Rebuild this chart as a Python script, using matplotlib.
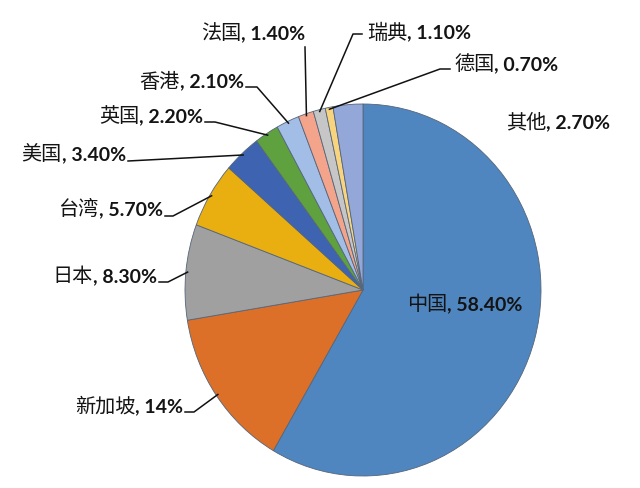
import numpy as np
import matplotlib
matplotlib.use("Agg")
import matplotlib.pyplot as plt

# data
labels = ["中国", "新加坡", "日本", "台湾", "美国", "英国", "香港", "法国", "瑞典", "德国", "其他"]
shares = [58.4, 14, 8.3, 5.7, 3.4, 2.2, 2.1, 1.4, 1.1, 0.7, 2.7]
texts = ["58.40%", "14%", "8.30%", "5.70%", "3.40%", "2.20%", "2.10%", "1.40%", "1.10%", "0.70%", "2.70%"]
colors = ["#4f86c0", "#dc7029", "#a0a0a0", "#e9ae10", "#3d63b1", "#5fa13f",
          "#a2bee6", "#f3a48b", "#c6c6c6", "#f8d47f", "#94a7d9"]

W, H = 640, 489
CX, CY, RX, RY = 363, 291, 178, 186   # pie centre / radii in pixels


def px(x, y):
    # pixel position -> data coords of the unit pie
    return (x - CX) / RX, (CY - y) / RY


fig = plt.figure(figsize=(W / 100, H / 100), dpi=100)
ax = fig.add_axes([0, 0, 1, 1])
wedges, _ = ax.pie(shares, colors=colors, startangle=90, counterclock=False,
                   radius=1, wedgeprops=dict(edgecolor="#55657a", linewidth=0.6))
ax.set_aspect("auto")
x0, y0 = px(0, H)
x1, y1 = px(W, 0)
ax.set_xlim(x0, x1)
ax.set_ylim(y0, y1)
ax.axis("off")

# CJK names in a plain weight, numbers in a bolder latin face
cjk_font = dict(family=["Noto Sans CJK SC", "DejaVu Sans"], fontsize=14.5,
                fontweight="normal", color="#141414")
num_font = dict(family=["Lato", "DejaVu Sans"], fontsize=14,
                fontweight="bold", color="#141414")

# label layout: (text anchor x, y, ha, leader points from text towards pie)
layout = {
    "中国": (407, 305, "left", None),
    "新加坡": (183, 407, "right", [(185, 413), (194, 413)]),
    "日本": (157, 277, "right", [(159, 283), (168, 283)]),
    "台湾": (163, 210, "right", [(165, 217), (173, 217)]),
    "美国": (126, 155, "right", [(128, 162)]),
    "英国": (203, 117, "right", [(205, 123), (215, 123)]),
    "香港": (244, 82, "right", [(246, 88), (257, 88)]),
    "法国": (201, 34, "left", [(305, 48)]),
    "瑞典": (367, 33, "left", [(362, 35), (353, 35)]),
    "德国": (454, 65, "left", [(450, 70), (440, 70)]),
    "其他": (506, 123, "left", None),
}

renderer = fig.canvas.get_renderer()
inv = ax.transData.inverted()


def label(name, t, tx, ty, ha):
    y = px(tx, ty)[1]
    if ha == "left":
        a = ax.text(*px(tx, ty), name, ha="left", va="center", **cjk_font)
        x_end = a.get_window_extent(renderer).x1
        ax.text(inv.transform((x_end, 0))[0], y, ", " + t, ha="left", va="center", **num_font)
    else:
        b = ax.text(*px(tx, ty), ", " + t, ha="right", va="center", **num_font)
        x_start = b.get_window_extent(renderer).x0
        ax.text(inv.transform((x_start, 0))[0], y, name, ha="right", va="center", **cjk_font)


for w, name, t in zip(wedges, labels, texts):
    tx, ty, ha, lead = layout[name]
    label(name, t, tx, ty, ha)
    if lead:
        mid = np.deg2rad((w.theta1 + w.theta2) / 2)
        pts = [px(*p) for p in lead] + [(np.cos(mid) * 0.99, np.sin(mid) * 0.99)]
        xs, ys = zip(*pts)
        ax.plot(xs, ys, color="#111111", lw=1.1)

fig.savefig("out.png", dpi=100)
